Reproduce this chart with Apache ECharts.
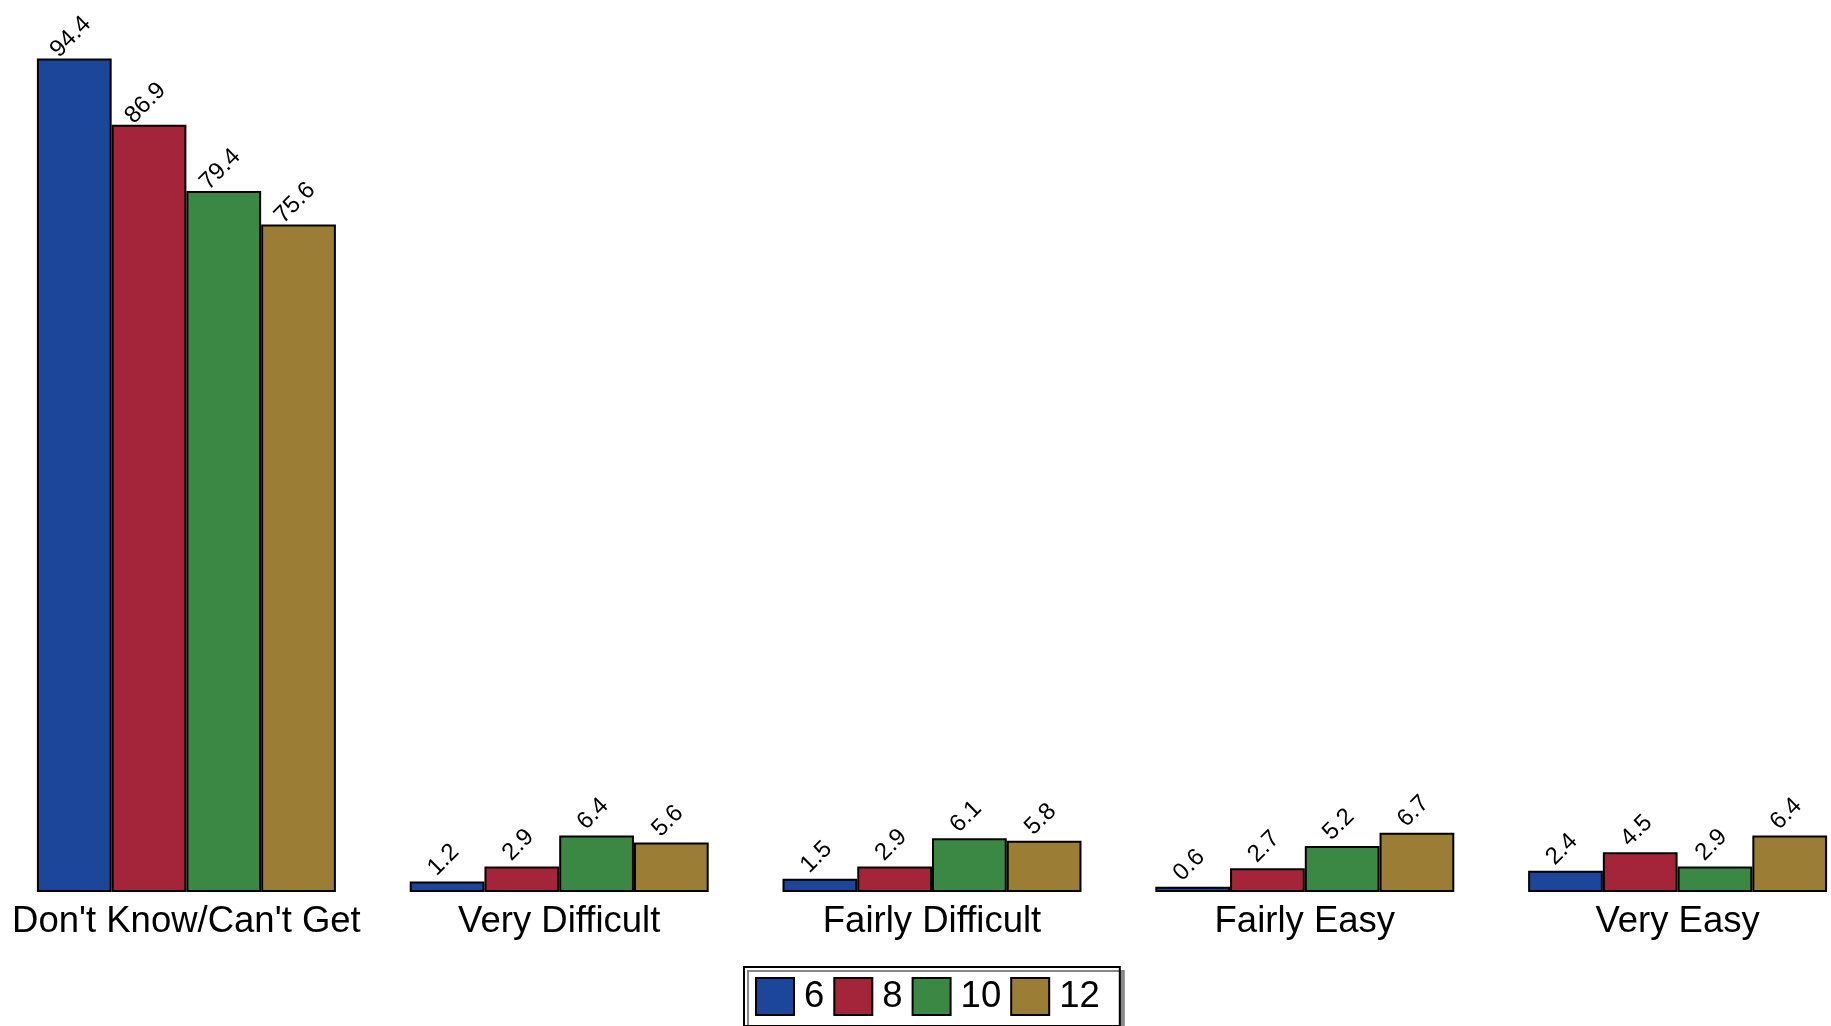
<!DOCTYPE html>
<html>
<head>
<meta charset="utf-8">
<script src="https://cdn.jsdelivr.net/npm/echarts@6/dist/echarts.min.js"></script>
<style>
html,body{margin:0;padding:0;background:#fff;}
#chart{width:1831px;height:1026px;}
</style>
</head>
<body>
<div id="chart"></div>
<script>
const categories = ["Don't Know/Can't Get", "Very Difficult", "Fairly Difficult", "Fairly Easy", "Very Easy"];
const seriesNames = ["6", "8", "10", "12"];
const grade6 = [94.4, 1.2, 1.5, 0.6, 2.4];
const grade8 = [86.9, 2.9, 2.9, 2.7, 4.5];
const grade10 = [79.4, 6.4, 6.1, 5.2, 2.9];
const grade12 = [75.6, 5.6, 5.8, 6.7, 6.4];
const colors = ["#1B4699", "#A4253A", "#3A8844", "#9B7D35"];

const values = [grade6, grade8, grade10, grade12];
const font = "'Liberation Sans', Arial, sans-serif";

const chart = echarts.init(document.getElementById('chart'), null, {renderer: 'canvas'});
chart.setOption({
  animation: false,
  backgroundColor: '#ffffff',
  grid: {left: 0, right: -33, top: 9, bottom: 134, containLabel: false, outerBoundsMode: 'none'},
  xAxis: {
    type: 'category',
    data: categories,
    axisLine: {show: false},
    axisTick: {show: false},
    axisLabel: {color: '#000', fontSize: 36.5, fontFamily: font, margin: 11, interval: 0}
  },
  yAxis: {
    type: 'value', min: 0, max: 100, show: false,
    splitLine: {show: false}
  },
  legend: {
    left: 744, top: 967,
    orient: 'horizontal',
    data: seriesNames,
    icon: 'rect',
    itemWidth: 38, itemHeight: 37,
    itemGap: 9, itemTextGap: 10,
    padding: [10, 20, 10, 11],
    borderColor: '#000', borderWidth: 2,
    backgroundColor: '#fff',
    shadowColor: '#888', shadowBlur: 0, shadowOffsetX: 4, shadowOffsetY: 4,
    textStyle: {color: '#000', fontSize: 36.5, fontFamily: font, padding: [0, 0, 0, 5]}
  },
  series: seriesNames.map((n, i) => ({
    name: n,
    type: 'bar',
    data: values[i],
    barGap: '0%',
    barCategoryGap: '19.8%',
    itemStyle: {color: colors[i], borderColor: '#000', borderWidth: 2},
    label: {
      show: true,
      position: 'top',
      distance: 25,
      offset: [-5, 0],
      rotate: 45,
      align: 'center',
      verticalAlign: 'middle',
      color: '#000',
      fontSize: 24,
      fontFamily: font,
      formatter: p => p.value.toFixed(1)
    }
  }))
});
</script>
</body>
</html>
